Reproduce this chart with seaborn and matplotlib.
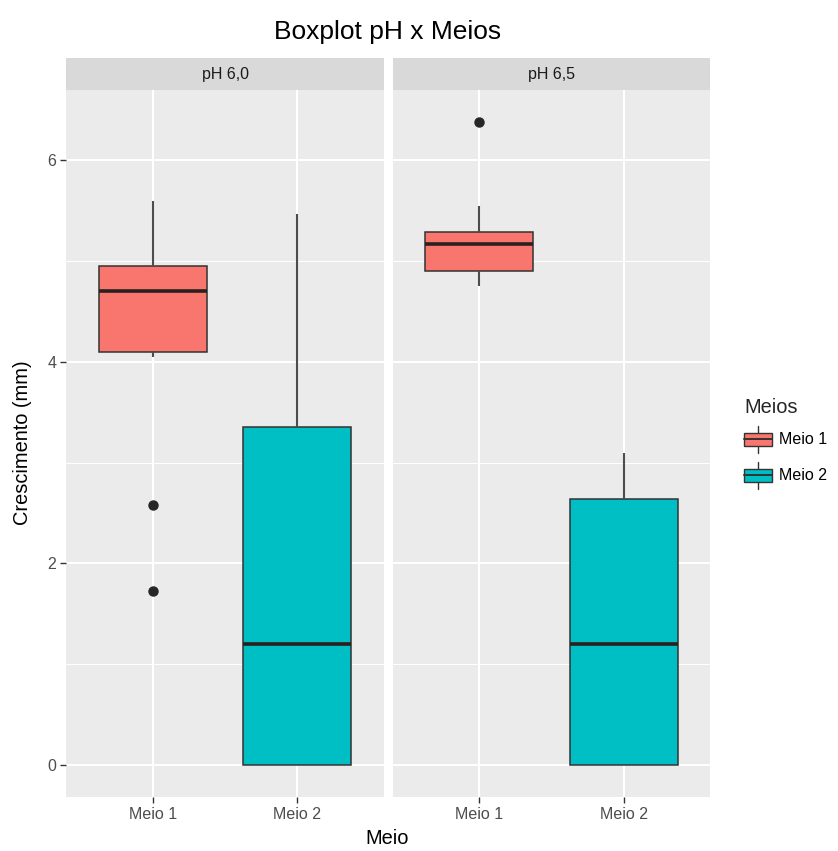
import numpy as np
import pandas as pd
import matplotlib
matplotlib.use("Agg")
import matplotlib.pyplot as plt
import seaborn as sns
from matplotlib.legend_handler import HandlerBase
from matplotlib.patches import Rectangle, Patch
from matplotlib.lines import Line2D

# ---------------- data ----------------
categories = ["Meio 1", "Meio 2"]
facets = ["pH 6,0", "pH 6,5"]
colors = ["#F8766D", "#00BFC4"]

ph60_meio1 = [1.73, 2.58, 4.05, 4.10, 4.30, 4.50, 4.70, 4.80, 4.90, 4.95, 5.10, 5.30, 5.60]
ph60_meio2 = [0.0, 0.0, 0.0, 0.50, 1.20, 2.10, 3.35, 4.40, 5.47]
ph65_meio1 = [4.75, 4.82, 4.86, 4.90, 5.00, 5.10, 5.17, 5.20, 5.25, 5.29, 5.40, 5.55, 6.38]
ph65_meio2 = [0.0, 0.0, 0.0, 0.60, 1.20, 1.90, 2.64, 2.90, 3.10]

yticks = [0, 2, 4, 6]
yminor = [1, 3, 5]

title = "Boxplot pH x Meios"
xlabel = "Meio"
ylabel = "Crescimento (mm)"
legend_title = "Meios"

rows = []
for facet, groups in zip(facets, [[ph60_meio1, ph60_meio2], [ph65_meio1, ph65_meio2]]):
    for cat, vals in zip(categories, groups):
        for v in vals:
            rows.append((facet, cat, v))
df = pd.DataFrame(rows, columns=["pH", "Meio", "Crescimento"])

# ---------------- style ----------------
sns.set_theme(style="darkgrid", rc={
    "axes.facecolor": "#EBEBEB",
    "grid.color": "white",
    "axes.axisbelow": True,
})
plt.rcParams["font.family"] = ["Liberation Sans", "DejaVu Sans"]

W, H = 838, 851
fig = plt.figure(figsize=(W / 100, H / 100), dpi=100)
fig.patch.set_facecolor("white")

panel_top, panel_bot = 90, 797
strip_top = 58
panels = [(66, 384), (393, 710)]

tick_fs = 11.5
axis_fs = 14.4

for i, (l, r) in enumerate(panels):
    ax = fig.add_axes([l / W, 1 - panel_bot / H, (r - l) / W, (panel_bot - panel_top) / H])
    sub = df[df["pH"] == facets[i]]
    sns.boxplot(
        data=sub, x="Meio", y="Crescimento", hue="Meio",
        order=categories, hue_order=categories, palette=colors,
        saturation=1, width=0.75, linecolor="#333333", linewidth=1.1,
        showcaps=False, legend=False, ax=ax,
        medianprops=dict(linewidth=2.6, color="#2a2020"),
        whiskerprops=dict(linewidth=1.5, color="#4d4d4d"),
        flierprops=dict(marker="o", markerfacecolor="#262626",
                        markeredgecolor="#262626", markersize=6.5),
    )
    ax.set_xlim(-0.6, 1.6)
    ax.set_ylim(-0.32, 6.70)
    ax.set_yticks(yticks)
    ax.set_yticks(yminor, minor=True)
    ax.grid(False)
    ax.yaxis.grid(True, which="major", color="white", linewidth=1.5)
    ax.yaxis.grid(True, which="minor", color="white", linewidth=0.75)
    ax.xaxis.grid(True, which="major", color="white", linewidth=1.5)
    for s in ax.spines.values():
        s.set_visible(False)
    ax.set_xlabel("")
    ax.set_ylabel("")
    ax.tick_params(axis="both", which="major", length=4, width=1.0,
                   color="#333333", labelcolor="#4D4D4D", labelsize=tick_fs, pad=3)
    ax.tick_params(axis="y", which="minor", length=0)
    ax.tick_params(axis="x", which="major", bottom=True)
    ax.tick_params(axis="y", which="major", left=True)
    if i == 1:
        ax.tick_params(axis="y", which="major", left=False, labelleft=False)

    sax = fig.add_axes([l / W, 1 - panel_top / H, (r - l) / W, (panel_top - strip_top) / H])
    sax.set_facecolor("#D9D9D9")
    sax.set_xticks([])
    sax.set_yticks([])
    sax.grid(False)
    for s in sax.spines.values():
        s.set_visible(False)
    sax.text(0.5, 0.5, facets[i], ha="center", va="center", color="#1A1A1A",
             fontsize=tick_fs, transform=sax.transAxes)

fig.text(387.5 / W, 1 - 32 / H, title, ha="center", va="center", fontsize=19, color="black")
fig.text(387.5 / W, 1 - 838 / H, xlabel, ha="center", va="center", fontsize=axis_fs, color="black")
fig.text(22 / W, 1 - 443 / H, ylabel, ha="center", va="center", rotation=90,
         fontsize=axis_fs, color="black")


class BoxHandler(HandlerBase):
    def create_artists(self, legend, orig_handle, xdescent, ydescent, width, height,
                       fontsize, trans):
        x0, y0 = -xdescent, -ydescent
        fc = orig_handle.get_facecolor()
        rect = Rectangle((x0, y0 + 0.25 * height), width, height * 0.5,
                         facecolor=fc, edgecolor="#333333", linewidth=1.0, transform=trans)
        cx = x0 + width / 2
        w1 = Line2D([cx, cx], [y0, y0 + 0.25 * height], color="#333333", lw=1.0, transform=trans)
        w2 = Line2D([cx, cx], [y0 + 0.75 * height, y0 + height], color="#333333", lw=1.0,
                    transform=trans)
        med = Line2D([x0, x0 + width], [y0 + 0.5 * height] * 2, color="#333333", lw=1.4,
                     transform=trans)
        return [w1, w2, rect, med]


handles = [Patch(facecolor=c, edgecolor="#333333") for c in colors]
leg = fig.legend(handles, categories, loc="upper left",
                 bbox_to_anchor=(744 / W, 1 - 398 / H), frameon=False,
                 title=legend_title, alignment="left",
                 handler_map={Patch: BoxHandler()},
                 fontsize=tick_fs, title_fontsize=axis_fs,
                 handlelength=1.75, handleheight=2.22, labelspacing=0.56,
                 handletextpad=0.45, borderpad=0, borderaxespad=0)
for t in leg.get_texts():
    t.set_color("black")

fig.savefig("out.png", dpi=100)
